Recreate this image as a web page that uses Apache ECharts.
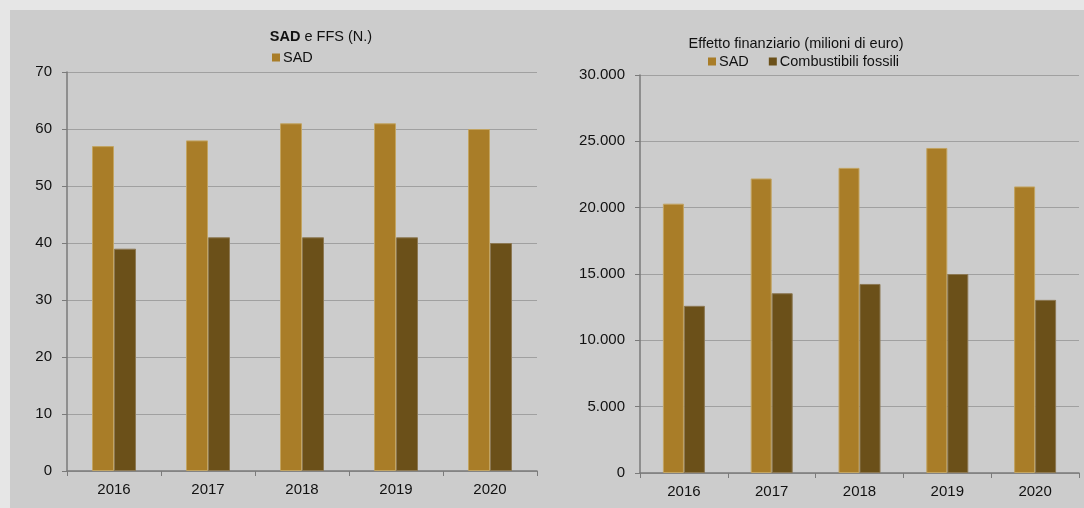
<!DOCTYPE html>
<html>
<head>
<meta charset="utf-8">
<title>SAD e FFS</title>
<script src="https://cdn.jsdelivr.net/npm/echarts@6/dist/echarts.min.js"></script>
<style>
  html, body { margin: 0; padding: 0; background: #e6e6e6; }
  #panel { position: absolute; left: 10px; top: 10px; width: 1074px; height: 498px; background: #cccccc; }
  #chart { position: absolute; left: 0; top: 0; width: 1084px; height: 508px; }
</style>
</head>
<body>
<div id="panel"></div>
<div id="chart"></div>
<script>
// Years shown on both category axes
const years = ['2016', '2017', '2018', '2019', '2020'];

// Left chart: number of subsidies (N.)
const sadCount = [57, 58, 61, 61, 60];
const ffsCount = [39, 41, 41, 41, 40];

// Right chart: financial effect (million euro)
const sadEffect = [20300, 22200, 23000, 24500, 21600];
const fossilEffect = [12600, 13550, 14250, 15000, 13050];

const SAD_COLOR = '#a97d28';
const FFS_COLOR = '#6b5019';
const FONT = '"Liberation Sans", Arial, sans-serif';

const fmtIt = v => v.toLocaleString('de-DE');

function catAxis(gridIndex) {
  return {
    type: 'category', gridIndex, data: years,
    axisLine: { lineStyle: { color: '#7a7a7a', width: 1.5 } },
    axisTick: { show: true, length: 5, lineStyle: { color: '#7a7a7a' } },
    axisLabel: { color: '#111', fontSize: 15, fontFamily: FONT, margin: 11 }
  };
}
function valAxis(gridIndex, max, interval, formatter) {
  return {
    type: 'value', gridIndex, min: 0, max, interval,
    axisLine: { show: true, lineStyle: { color: '#7a7a7a', width: 1.5 } },
    axisTick: { show: true, length: 5, lineStyle: { color: '#7a7a7a' } },
    axisLabel: { color: '#111', fontSize: 15, fontFamily: FONT, margin: 15, formatter },
    splitLine: { lineStyle: { color: '#a0a0a0', width: 1.2 } }
  };
}
function bars(name, data, color, border, xi, width) {
  return {
    name, type: 'bar', data, xAxisIndex: xi, yAxisIndex: xi,
    barWidth: width, barGap: '0%',
    itemStyle: { color, borderColor: border, borderWidth: 1 }
  };
}
const legendBase = {
  itemWidth: 8, itemHeight: 8, itemGap: 20, padding: 0, icon: 'rect', selectedMode: false,
  itemStyle: { borderWidth: 0 },
  textStyle: { fontSize: 14.5, color: '#111', fontFamily: FONT, padding: [0, 0, 0, -2] }
};

const chart = echarts.init(document.getElementById('chart'));
chart.setOption({
  animation: false,
  textStyle: { fontFamily: FONT },
  title: [
    {
      text: '{b|SAD} e FFS (N.)', left: 316, top: 24, textAlign: 'center',
      textStyle: {
        fontSize: 14.5, fontWeight: 'normal', color: '#111', fontFamily: FONT,
        rich: { b: { fontWeight: 'bold', fontSize: 14.5, color: '#111', fontFamily: FONT } }
      }
    },
    {
      text: 'Effetto finanziario (milioni di euro)', left: 791, top: 31, textAlign: 'center',
      textStyle: { fontSize: 14.5, fontWeight: 'normal', color: '#111', fontFamily: FONT }
    }
  ],
  legend: [
    Object.assign({}, legendBase, { data: ['SAD'], left: 272, top: 50 }),
    Object.assign({}, legendBase, { data: ['SAD', 'Combustibili fossili'], left: 708, top: 54 })
  ],
  grid: [
    { left: 67, top: 72, width: 470, height: 399 },
    { left: 640, top: 75, width: 439, height: 398 }
  ],
  xAxis: [catAxis(0), catAxis(1)],
  yAxis: [
    valAxis(0, 70, 10),
    valAxis(1, 30000, 5000, fmtIt)
  ],
  series: [
    bars('SAD', sadCount, SAD_COLOR, '#c2a462', 0, 22),
    bars('FFS', ffsCount, FFS_COLOR, '#8c7853', 0, 22),
    bars('SAD', sadEffect, SAD_COLOR, '#c2a462', 1, 21),
    bars('Combustibili fossili', fossilEffect, FFS_COLOR, '#8c7853', 1, 21)
  ]
});
</script>
</body>
</html>
